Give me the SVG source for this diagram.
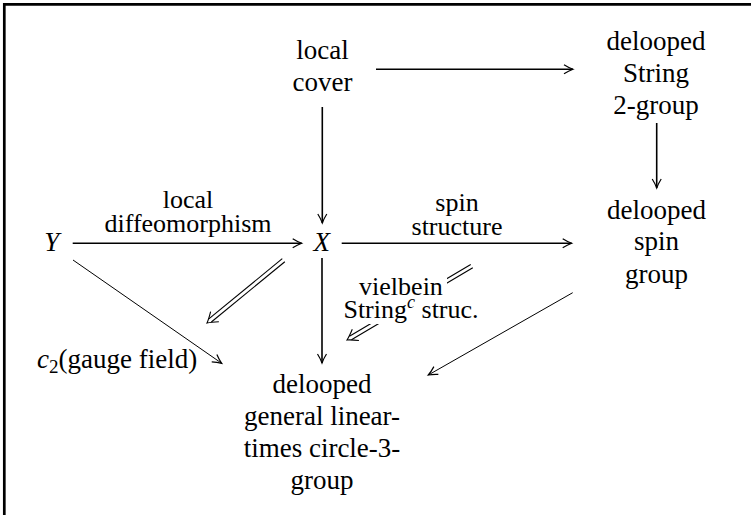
<svg xmlns="http://www.w3.org/2000/svg" width="751" height="515" viewBox="0 0 751 515">
<style>
text{font-size:27px;fill:#000}
.m{text-anchor:middle}
.i{font-style:italic}
.lb{font-size:26px}
.thick{stroke:#000;stroke-width:1.6;fill:none}
.thin{stroke:#000;stroke-width:1;fill:none}
.hd{stroke:#000;stroke-width:1.1;fill:none}
</style>
<defs>
<marker id="to" markerUnits="userSpaceOnUse" viewBox="-11 -6 13 12" refX="0" refY="0" markerWidth="13" markerHeight="12" orient="auto" overflow="visible">
<path d="M -9 -4.5 C -6 -2.6 -2.2 -0.8 0 0 C -2.2 0.8 -6 2.6 -9 4.5" fill="none" stroke="#000" stroke-width="1.2"/>
</marker>
</defs>
<path d="M 4.3 515 V 4.3 H 751" fill="none" stroke="#000" stroke-width="2.7"/>
<g id="connectors">
<line class="thick" x1="376" y1="69.3" x2="573" y2="69.3" marker-end="url(#to)"/>
<line class="thick" x1="656.7" y1="123" x2="656.7" y2="188" marker-end="url(#to)"/>
<line class="thick" x1="322.3" y1="107" x2="322.3" y2="223" marker-end="url(#to)"/>
<line class="thick" x1="72.7" y1="243.3" x2="301.7" y2="243.3" marker-end="url(#to)"/>
<line class="thick" x1="341.7" y1="243.3" x2="571.7" y2="243.3" marker-end="url(#to)"/>
<line class="thick" x1="322" y1="258" x2="322" y2="363" marker-end="url(#to)"/>
<line class="thin" x1="73" y1="260" x2="221.7" y2="363.3" marker-end="url(#to)"/>
<line class="thin" x1="572.7" y1="292.7" x2="428.3" y2="375" marker-end="url(#to)"/>
<g transform="translate(207,323) rotate(140.65)">
<line class="hd" x1="-99" y1="-2" x2="-4" y2="-2"/>
<line class="hd" x1="-99" y1="2" x2="-4" y2="2"/>
<path class="hd" d="M -10 -6.5 C -6 -3.5 -2.5 -1.2 0 0 C -2.5 1.2 -6 3.5 -10 6.5"/>
</g>
<g transform="translate(347,340) rotate(149.37)">
<line class="hd" x1="-145" y1="-2" x2="-4" y2="-2"/>
<line class="hd" x1="-145" y1="2" x2="-4" y2="2"/>
<path class="hd" d="M -10 -6.5 C -6 -3.5 -2.5 -1.2 0 0 C -2.5 1.2 -6 3.5 -10 6.5"/>
</g>
<rect x="355" y="275" width="92" height="26" fill="#fff"/>
<rect x="333" y="299" width="157" height="25" fill="#fff"/>
</g>
<g font-family="Liberation Serif, DejaVu Serif, serif">
<g id="local-cover"><text class="m" x="322.5" y="59">local</text><text class="m" x="322.5" y="91">cover</text></g>
<g id="string-2-group"><text class="m" x="656" y="50">delooped</text><text class="m" x="656" y="82">String</text><text class="m" x="656" y="114">2-group</text></g>
<g id="spin-group"><text class="m" x="656.5" y="219">delooped</text><text class="m" x="656.5" y="250">spin</text><text class="m" x="656.5" y="283">group</text></g>
<g id="Y"><text class="m i" x="51.7" y="251">Y</text></g>
<g id="X"><text class="m i" x="321.7" y="251">X</text></g>
<g id="label-diffeo"><text class="m lb" x="188" y="208">local</text><text class="m lb" x="188" y="232">diffeomorphism</text></g>
<g id="label-spin"><text class="m lb" x="457" y="211">spin</text><text class="m lb" x="457" y="235">structure</text></g>
<g id="label-vielbein"><text class="m lb" x="401" y="295">vielbein</text><text class="m lb" x="411" y="318">String<tspan class="i" font-size="18" dy="-10">c</tspan><tspan dy="10"> struc.</tspan></text></g>
<g id="gauge-field"><text x="37" y="368"><tspan class="i">c</tspan><tspan font-size="19" dy="5">2</tspan><tspan dy="-5">(gauge field)</tspan></text></g>
<g id="gl-group"><text class="m" x="322" y="393">delooped</text><text class="m" x="322" y="425">general linear-</text><text class="m" x="322" y="457">times circle-3-</text><text class="m" x="322" y="489">group</text></g>
</g>
</svg>
